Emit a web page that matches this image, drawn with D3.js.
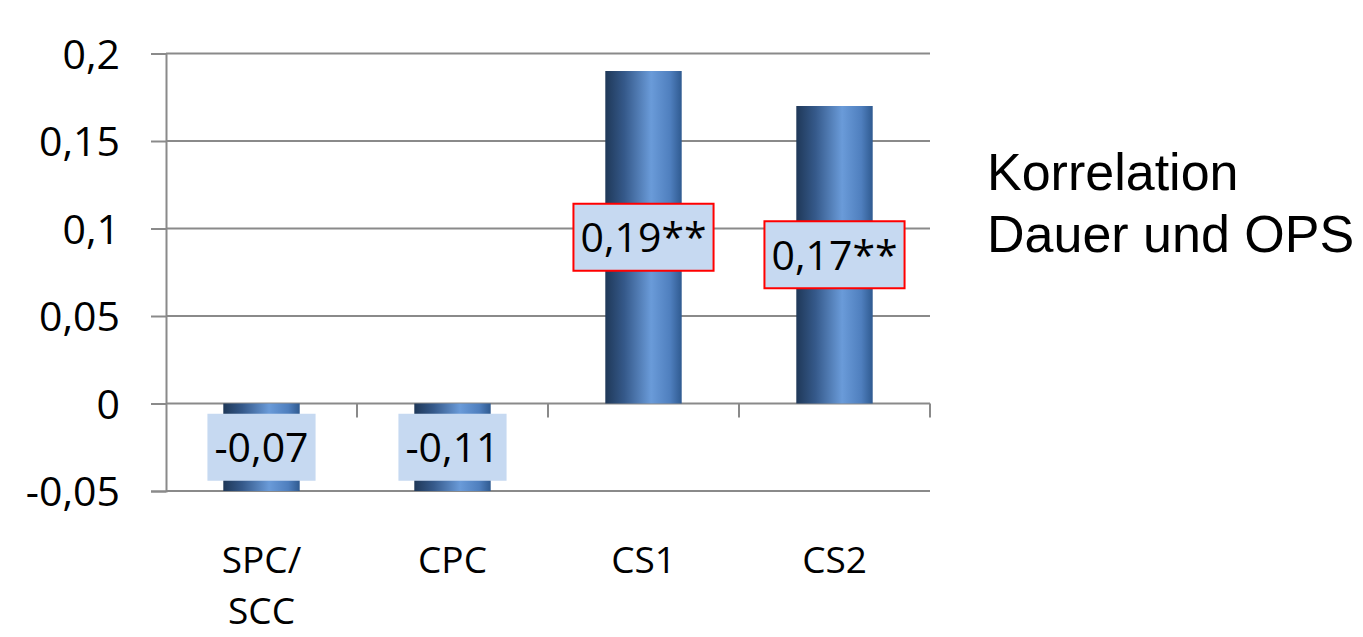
<!DOCTYPE html>
<html>
<head>
<meta charset="utf-8">
<script src="https://cdn.jsdelivr.net/npm/d3@7/dist/d3.min.js"></script>
<style>
  html, body { margin: 0; padding: 0; background: #ffffff; overflow: hidden; }
  svg { display: block; }
</style>
</head>
<body>
<svg id="chart" width="1363" height="637"></svg>
<script>
// Correlation values per group
const categories = ["SPC/SCC", "CPC", "CS1", "CS2"];
const categoryLines = [["SPC/", "SCC"], ["CPC"], ["CS1"], ["CS2"]];
const values = [-0.07, -0.11, 0.19, 0.17];
const significance = ["", "", "**", "**"];
const yTicks = [-0.05, 0, 0.05, 0.1, 0.15, 0.2];
const yTickLabels = ["-0,05", "0", "0,05", "0,1", "0,15", "0,2"];
const titleLines = ["Korrelation", "Dauer und OPS"];

const svg = d3.select("#chart");
const plot = { left: 166, right: 930, top: 53.5, bottom: 491 };
const axisFont = "'Open Sans', 'Noto Sans', sans-serif";
const gridColor = "#8a8a8a";

const x = d3.scaleBand()
  .domain(categories)
  .range([plot.left, plot.right])
  .paddingInner(0.6)
  .paddingOuter(0.3);

const y = d3.scaleLinear()
  .domain([yTicks[0], yTicks[yTicks.length - 1]])
  .range([plot.bottom, plot.top]);

// Bar fill: dark edge on the left, highlight right of centre
const defs = svg.append("defs");
const grad = defs.append("linearGradient")
  .attr("id", "barFill")
  .attr("x1", 0).attr("x2", 1).attr("y1", 0).attr("y2", 0);
[
  [0, "#1f3858"],
  [0.25, "#35598a"],
  [0.6, "#6a9bd9"],
  [0.85, "#4f7fbe"],
  [1, "#2f5a90"]
].forEach(([o, c]) => grad.append("stop").attr("offset", o).attr("stop-color", c));

// Horizontal gridlines
svg.append("g")
  .selectAll("line")
  .data(yTicks)
  .join("line")
  .attr("x1", plot.left)
  .attr("x2", plot.right)
  .attr("y1", d => y(d))
  .attr("y2", d => y(d))
  .attr("stroke", gridColor)
  .attr("stroke-width", 2);

// Bars, clipped to the axis range
const lo = y.domain()[0], hi = y.domain()[1];
const clampV = v => Math.max(lo, Math.min(hi, v));
svg.append("g")
  .selectAll("rect")
  .data(categories)
  .join("rect")
  .attr("x", d => x(d))
  .attr("width", x.bandwidth())
  .attr("y", (d, i) => Math.min(y(0), y(clampV(values[i]))))
  .attr("height", (d, i) => Math.abs(y(clampV(values[i])) - y(0)))
  .attr("fill", "url(#barFill)");

// Y axis with outward ticks
const yAxis = d3.axisLeft(y)
  .tickValues(yTicks)
  .tickFormat((d, i) => yTickLabels[i])
  .tickSize(15)
  .tickPadding(31);
const gy = svg.append("g")
  .attr("transform", `translate(${plot.left},0)`)
  .call(yAxis);
gy.select(".domain").attr("stroke", gridColor).attr("stroke-width", 2);
gy.selectAll(".tick line").attr("stroke", gridColor).attr("stroke-width", 2);
gy.selectAll(".tick text")
  .attr("font-family", axisFont)
  .attr("font-size", 41)
  .attr("fill", "#000")
  .attr("dy", "0.36em");

// Category separators on the zero line
const step = x.step();
svg.append("g")
  .selectAll("line")
  .data(categories)
  .join("line")
  .attr("x1", d => x(d) + x.bandwidth() / 2 + step / 2)
  .attr("x2", d => x(d) + x.bandwidth() / 2 + step / 2)
  .attr("y1", y(0))
  .attr("y2", y(0) + 14)
  .attr("stroke", gridColor)
  .attr("stroke-width", 2);

// Category labels below the plot, one text per line
const catG = svg.append("g")
  .attr("font-family", axisFont)
  .attr("font-size", 37)
  .attr("text-anchor", "middle")
  .attr("fill", "#000");
categories.forEach((c, i) => {
  categoryLines[i].forEach((line, j) => {
    catG.append("text")
      .attr("x", x(c) + x.bandwidth() / 2)
      .attr("y", 573 + j * 51)
      .text(line);
  });
});

// Value labels centred on each bar
const fmt = v => d3.format(".2f")(v).replace(".", ",").replace("−", "-");
const labelG = svg.append("g");
categories.forEach((c, i) => {
  const v = clampV(values[i]);
  const cx = x(c) + x.bandwidth() / 2;
  const cy = (y(0) + y(v)) / 2;
  const g = labelG.append("g");
  const box = g.append("rect");
  const txt = g.append("text")
    .attr("x", cx)
    .attr("y", cy)
    .attr("dy", "0.36em")
    .attr("text-anchor", "middle")
    .attr("font-family", axisFont)
    .attr("font-size", 41)
    .attr("fill", "#000")
    .text(fmt(values[i]) + significance[i]);
  const bb = txt.node().getBBox();
  const padX = 7, h = 67;
  box.attr("x", bb.x - padX)
    .attr("y", cy - h / 2)
    .attr("width", bb.width + padX * 2)
    .attr("height", h)
    .attr("fill", "#c6d9f1")
    .attr("stroke", significance[i] ? "#ff0000" : "none")
    .attr("stroke-width", 2);
});

// Side title
const title = svg.append("text")
  .attr("font-family", "'Liberation Sans', Arial, sans-serif")
  .attr("font-size", 52)
  .attr("fill", "#000");
titleLines.forEach((line, j) => {
  title.append("tspan")
    .attr("x", 987)
    .attr("y", 190 + j * 62)
    .text(line);
});
</script>
</body>
</html>
